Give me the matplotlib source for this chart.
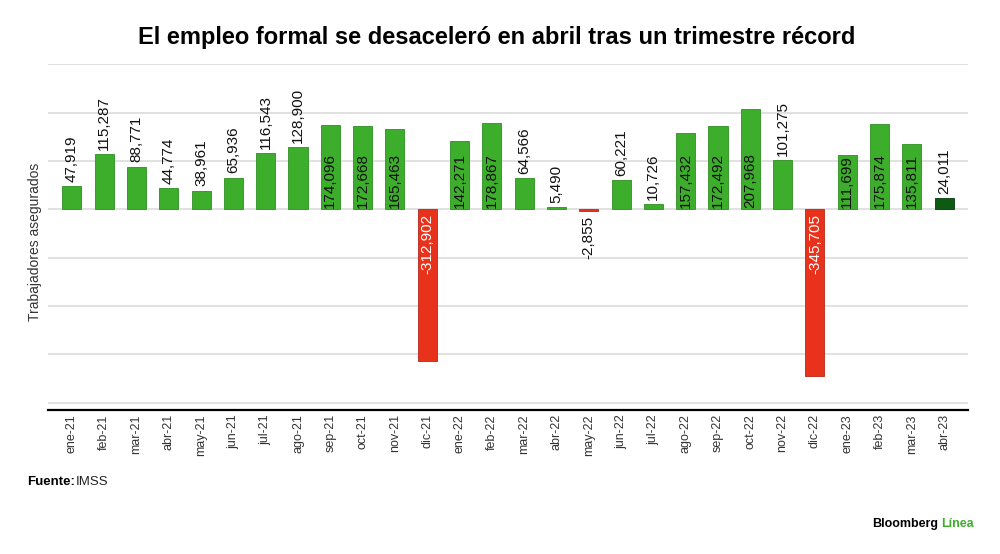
import matplotlib
matplotlib.use('Agg')
import matplotlib.pyplot as plt
import numpy as np

# datos: altas netas de trabajadores asegurados en el IMSS
meses = ['ene-21', 'feb-21', 'mar-21', 'abr-21', 'may-21', 'jun-21', 'jul-21',
         'ago-21', 'sep-21', 'oct-21', 'nov-21', 'dic-21', 'ene-22', 'feb-22',
         'mar-22', 'abr-22', 'may-22', 'jun-22', 'jul-22', 'ago-22', 'sep-22',
         'oct-22', 'nov-22', 'dic-22', 'ene-23', 'feb-23', 'mar-23', 'abr-23']
empleos = [47919, 115287, 88771, 44774, 38961, 65936, 116543,
           128900, 174096, 172668, 165463, -312902, 142271, 178867,
           64566, 5490, -2855, 60221, 10726, 157432, 172492,
           207968, 101275, -345705, 111699, 175874, 135811, 24011]
# meses cuya etiqueta va dentro de la barra
dentro = ['sep-21', 'oct-21', 'nov-21', 'dic-21', 'ene-22', 'feb-22', 'ago-22',
          'sep-22', 'oct-22', 'dic-22', 'ene-23', 'feb-23', 'mar-23']

verde = '#3dae2b'
rojo = '#e8321c'
verde_osc = '#0d5a12'

plt.rcParams['font.family'] = ['Liberation Sans', 'DejaVu Sans']

fig = plt.figure(figsize=(10, 5.54), dpi=100)
ax = fig.add_axes([0.048, 0.26, 0.92, 0.6245])

x = np.arange(len(meses))
colores = []
for i, v in enumerate(empleos):
    if v < 0:
        colores.append(rojo)
    elif i == len(empleos) - 1:
        colores.append(verde_osc)
    else:
        colores.append(verde)
bordes = ['#b8261a' if v < 0 else '#2f8f22' for v in empleos]
bordes[-1] = '#063a09'
ax.bar(x, empleos, width=0.59, color=colores, edgecolor=bordes, linewidth=0.6, zorder=3)

for i, v in enumerate(empleos):
    txt = f'{v:,}'
    if meses[i] in dentro:
        if v < 0:
            ax.annotate(txt, (i, 0), xytext=(0, -3), textcoords='offset points',
                        rotation=90, ha='center', va='top', fontsize=11,
                        color='white', zorder=4)
        else:
            ax.annotate(txt, (i, 0), xytext=(0, 1), textcoords='offset points',
                        rotation=90, ha='center', va='bottom', fontsize=11,
                        color='#111111', zorder=4)
    else:
        if v < 0:
            ax.annotate(txt, (i, v), xytext=(0, -4), textcoords='offset points',
                        rotation=90, ha='center', va='top', fontsize=11,
                        color='#111111', zorder=4)
        else:
            ax.annotate(txt, (i, v), xytext=(0, 3), textcoords='offset points',
                        rotation=90, ha='center', va='bottom', fontsize=11,
                        color='#111111', zorder=4)

ax.set_xlim(-0.74, len(meses) - 0.26)
ax.set_ylim(-415000, 301000)
ax.set_yticks(np.arange(-400000, 300001, 100000))
ax.yaxis.grid(True, color='#dcdcdc', linewidth=1.2, zorder=0)
ax.tick_params(axis='y', length=0, labelleft=False)
ax.set_xticks(x)
ax.set_xticklabels(meses, rotation=90, fontsize=9, color='#333333')
ax.tick_params(axis='x', length=0, pad=3)
for s in ['top', 'right', 'left']:
    ax.spines[s].set_visible(False)
ax.spines['bottom'].set_linewidth(1.6)
ax.spines['bottom'].set_color('black')

fig.text(0.035, 1 - 242 / 554, 'Trabajadores asegurados', rotation=90, fontsize=10,
         color='#333333', ha='center', va='center')

fig.text(0.497, 0.933, 'El empleo formal se desaceleró en abril tras un trimestre récord',
         ha='center', va='center', fontsize=17, fontweight='bold', color='black')

fig.text(0.027, 0.13, 'Fuente:', fontsize=9.5, fontweight='bold', ha='left', va='center')
fig.text(0.076, 0.13, 'IMSS', fontsize=9.5, ha='left', va='center', color='#222222')

fig.text(0.938, 0.054, 'Bloomberg', fontsize=9, fontweight='bold', ha='right', va='center')
fig.text(0.941, 0.054, 'Línea', fontsize=9, fontweight='bold', ha='left', va='center',
         color='#3dae2b')

fig.savefig('out.png', dpi=100, facecolor='white')
